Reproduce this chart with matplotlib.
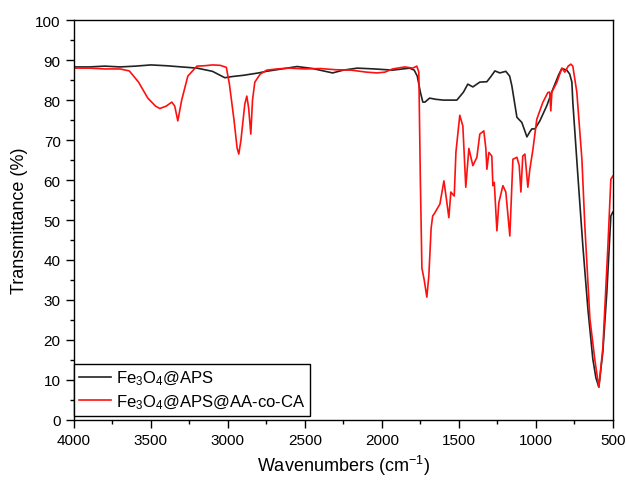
import numpy as np
import matplotlib
matplotlib.use("Agg")
from matplotlib import pyplot as plt
from matplotlib.ticker import MultipleLocator

plt.rcParams['font.family'] = ['Liberation Sans', 'DejaVu Sans']
plt.rcParams['mathtext.default'] = 'regular'

# Fe3O4@APS spectrum (wavenumber, transmittance)
wn_aps = [4000, 3900, 3800, 3700, 3600, 3500, 3400, 3300, 3200, 3100, 3020, 2970, 2900, 2800,
          2750, 2650, 2550, 2450, 2320, 2250, 2160, 2050, 1930, 1820, 1790, 1770, 1750, 1734,
          1720, 1690, 1650, 1600, 1513, 1470, 1442, 1409, 1364, 1318, 1290, 1266, 1234, 1195,
          1170, 1156, 1123, 1091, 1058, 1040, 1026, 1006, 974, 929, 890, 850, 831, 799, 780,
          766, 760, 727, 695, 662, 630, 610, 591, 565, 539, 513, 500]
tr_aps = [88.3, 88.3, 88.5, 88.3, 88.5, 88.8, 88.6, 88.3, 88.0, 87.2, 85.6, 85.9, 86.2, 86.8,
          87.2, 87.8, 88.4, 87.9, 86.8, 87.5, 88.0, 87.8, 87.5, 88.0, 87.5, 86.0, 82.0, 79.5,
          79.5, 80.5, 80.2, 80.0, 80.0, 82.0, 84.0, 83.3, 84.5, 84.6, 86.0, 87.3, 86.8, 87.2,
          86.0, 83.6, 75.7, 74.4, 70.8, 72.0, 72.8, 72.8, 74.8, 78.6, 82.7, 86.5, 87.9, 87.5,
          86.5, 84.5, 79.5, 61.0, 43.6, 27.7, 15.2, 10.5, 8.2, 17.0, 32.0, 51.0, 52.0]

# Fe3O4@APS@AA-co-CA spectrum
wn_copo = [4000, 3900, 3800, 3700, 3640, 3580, 3520, 3470, 3442, 3400, 3364, 3345, 3325, 3300,
           3260, 3201, 3150, 3100, 3050, 3010, 2990, 2960, 2940, 2929, 2915, 2890, 2877, 2865,
           2851, 2840, 2825, 2790, 2747, 2680, 2600, 2500, 2400, 2300, 2200, 2100, 2032, 1980,
           1930, 1850, 1800, 1773, 1760, 1750, 1740, 1725, 1708, 1695, 1680, 1670, 1656, 1623,
           1597, 1580, 1565, 1552, 1530, 1519, 1494, 1474, 1455, 1435, 1409, 1383, 1364, 1338,
           1325, 1318, 1305, 1286, 1279, 1270, 1253, 1240, 1214, 1195, 1169, 1149, 1123, 1108,
           1097, 1085, 1071, 1052, 1039, 1019, 994, 955, 922, 910, 903, 896, 864, 831, 812, 790,
           773, 760, 734, 701, 682, 649, 617, 591, 565, 532, 513, 500]
tr_copo = [88.0, 88.0, 87.8, 87.8, 87.3, 84.5, 80.5, 78.5, 77.9, 78.5, 79.5, 78.5, 74.8, 80.0,
           86.0, 88.5, 88.6, 88.8, 88.7, 88.2, 84.0, 75.0, 68.0, 66.5, 70.0, 79.0, 81.0, 78.0,
           71.5, 80.0, 84.5, 86.5, 87.5, 87.8, 88.0, 87.8, 87.9, 87.6, 87.5, 87.0, 86.8, 87.0,
           87.8, 88.3, 88.0, 88.5, 87.0, 60.0, 38.0, 35.0, 30.7, 36.0, 48.0, 51.0, 51.8, 54.0,
           59.8, 55.0, 50.6, 57.0, 56.0, 67.0, 76.2, 73.5, 58.2, 67.9, 63.6, 65.7, 71.5, 72.3,
           68.0, 62.7, 66.9, 66.0, 58.6, 59.4, 47.3, 54.4, 58.6, 57.0, 46.0, 65.2, 65.7, 63.6,
           57.0, 66.0, 66.5, 58.2, 62.7, 67.7, 75.2, 79.4, 81.9, 82.0, 77.3, 82.0, 84.4, 88.0,
           87.0, 88.5, 89.0, 88.5, 82.0, 65.2, 48.6, 25.3, 15.0, 8.2, 18.0, 43.6, 60.2, 61.0]

fig = plt.figure(figsize=(6.26, 4.81), dpi=100)
ax = fig.add_axes([0.118, 0.125, 0.861, 0.831])

ax.plot(wn_aps, tr_aps, color='#222222', lw=1.2, label=r'Fe$_3$O$_4$@APS')
ax.plot(wn_copo, tr_copo, color='#ff1010', lw=1.2, label=r'Fe$_3$O$_4$@APS@AA-co-CA')

ax.set_xlim(4000, 500)
ax.set_ylim(0, 100)
ax.xaxis.set_major_locator(MultipleLocator(500))
ax.xaxis.set_minor_locator(MultipleLocator(250))
ax.yaxis.set_major_locator(MultipleLocator(10))
ax.yaxis.set_minor_locator(MultipleLocator(5))
ax.tick_params(which='major', direction='out', length=6, width=1, labelsize=11)
ax.tick_params(which='minor', direction='out', length=3, width=1)
for s in ax.spines.values():
    s.set_linewidth(1.0)

ax.set_xlabel('Wavenumbers (cm$^{-1}$)', fontsize=13, labelpad=4)
ax.set_ylabel('Transmittance (%)', fontsize=13, labelpad=5)

leg = ax.legend(loc='lower left', bbox_to_anchor=(0, 0.01), borderaxespad=0,
                fontsize=12, fancybox=False, edgecolor='black', framealpha=1,
                handlelength=1.9, handletextpad=0.3, labelspacing=0.3, borderpad=0.3)
leg.get_frame().set_linewidth(1.0)

plt.savefig('out.png', dpi=100)
